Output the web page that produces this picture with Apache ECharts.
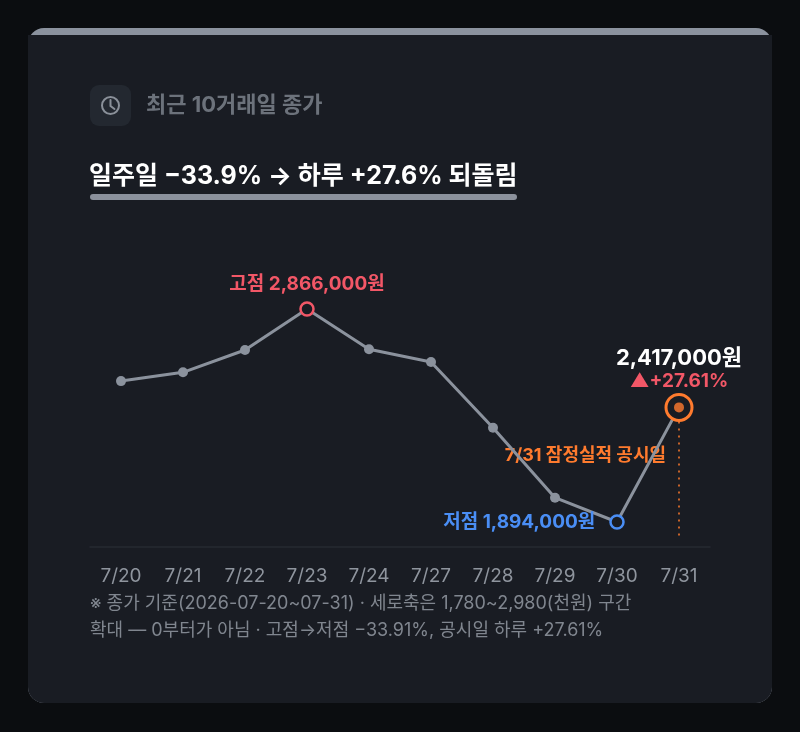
<!DOCTYPE html>
<html>
<head>
<meta charset="utf-8">
<script src="https://cdn.jsdelivr.net/npm/echarts@6/dist/echarts.min.js"></script>
<style>
  html, body { margin: 0; padding: 0; background: #0b0d10; }
  #mydiv { width: 800px; height: 732px; }
</style>
</head>
<body>
<div id="mydiv"></div>
<script>
// 날짜 (x축 눈금)
var days = ['7/20', '7/21', '7/22', '7/23', '7/24', '7/27', '7/28', '7/29', '7/30', '7/31'];
// 종가 (천원)
var closes = [2537, 2577, 2679, 2866, 2682, 2624, 2324, 2005, 1894, 2417];
// 세로축 구간 (천원)
var yRange = [1780, 2980];

var FONT = "Inter, 'Noto Sans CJK KR', sans-serif";
var CARD = '#191c23';

var hiIdx = closes.indexOf(Math.max.apply(null, closes));
var loIdx = closes.indexOf(Math.min.apply(null, closes));
var lastIdx = closes.length - 1;

function won(v) {
    return (v * 1000).toLocaleString('en-US') + '원';
}
var dayPct = ((closes[lastIdx] / closes[lastIdx - 1] - 1) * 100).toFixed(2);

// 점마다 모양 지정
var points = closes.map(function (v, i) {
    var item = { value: v };
    if (i === hiIdx) {
        item.symbolSize = 13;
        item.itemStyle = { color: CARD, borderColor: '#f25767', borderWidth: 2.5 };
        item.label = {
            show: true, position: 'top', distance: 7,
            formatter: '고점 ' + won(v),
            color: '#f25767', fontSize: 19, fontWeight: 'bold', fontFamily: FONT
        };
    } else if (i === loIdx) {
        item.symbolSize = 13;
        item.itemStyle = { color: CARD, borderColor: '#4a8ef5', borderWidth: 2.5 };
        item.label = {
            show: true, position: 'left', distance: 14,
            formatter: '저점 ' + won(v),
            color: '#4a8ef5', fontSize: 19, fontWeight: 'bold', fontFamily: FONT
        };
    } else if (i === lastIdx) {
        item.symbolSize = 26;
        item.itemStyle = { color: CARD, borderColor: '#ff7b2e', borderWidth: 3 };
        item.label = {
            show: true, position: 'top', distance: 1,
            formatter: '{v|' + won(v) + '}\n{p|▲+' + dayPct + '%}',
            rich: {
                v: { color: '#ffffff', fontSize: 22, fontWeight: 'bold', fontFamily: FONT, lineHeight: 24, align: 'center' },
                p: { color: '#f25767', fontSize: 19, fontWeight: 'bold', fontFamily: FONT, lineHeight: 22, align: 'center' }
            }
        };
    }
    return item;
});

var echart = echarts.init(document.getElementById('mydiv'));

var option = {
    backgroundColor: '#0b0d10',
    animation: false,
    grid: { left: 90, right: 90, top: 284, bottom: 185 },
    xAxis: {
        type: 'category',
        data: days,
        axisLine: { lineStyle: { color: '#262a32', width: 1.5 } },
        axisTick: { show: false },
        axisLabel: { color: '#8f959e', fontSize: 19, margin: 20, fontFamily: FONT }
    },
    yAxis: {
        type: 'value',
        min: yRange[0],
        max: yRange[1],
        show: false,
        splitLine: { show: false }
    },
    series: [{
        type: 'line',
        data: points,
        symbol: 'circle',
        symbolSize: 10,
        z: 5,
        lineStyle: { color: '#8b929d', width: 3 },
        itemStyle: { color: '#8b929d' },
        // 공시일 점선
        markLine: {
            silent: true,
            symbol: ['none', 'none'],
            label: { show: false },
            lineStyle: { color: '#ff7b2e', type: [2, 5], width: 1.5 },
            data: [[
                { coord: [days[lastIdx], closes[lastIdx]] },
                { coord: [days[lastIdx], yRange[0] + 30] }
            ]]
        },
        markPoint: {
            silent: true,
            symbol: 'circle',
            symbolSize: 0,
            data: [{
                coord: [days[lastIdx], 2195],
                label: {
                    show: true, position: 'left', distance: 13,
                    formatter: '7/31 잠정실적 공시일',
                    color: '#ff7b2e', fontSize: 18, fontWeight: 'bold', fontFamily: FONT
                }
            }]
        }
    }, {
        // 공시일 점 안쪽
        type: 'scatter',
        data: [[days[lastIdx], closes[lastIdx]]],
        symbolSize: 10,
        z: 6,
        itemStyle: { color: '#ff7b2e' }
    }],
    graphic: [
        // 카드
        { type: 'rect', z: -10, shape: { x: 28, y: 28, width: 744, height: 675, r: 16 }, style: { fill: '#8b929e' } },
        { type: 'rect', z: -9, shape: { x: 28, y: 35, width: 744, height: 668, r: [0, 0, 16, 16] }, style: { fill: CARD } },
        // 아이콘
        { type: 'rect', z: -8, shape: { x: 90, y: 85, width: 41, height: 41, r: 9 }, style: { fill: '#232830' } },
        { type: 'circle', shape: { cx: 110.5, cy: 105.5, r: 8.5 }, style: { fill: null, stroke: '#8a9099', lineWidth: 2 } },
        { type: 'polyline', shape: { points: [[110.5, 100], [110.5, 106], [114.5, 109]] }, style: { fill: null, stroke: '#8a9099', lineWidth: 2, lineCap: 'round' } },
        // 제목
        { type: 'text', x: 146, y: 105, style: { text: '최근 10거래일 종가', fill: '#6c727b', fontSize: 22, fontWeight: 'bold', fontFamily: FONT, verticalAlign: 'middle' } },
        { type: 'text', x: 89, y: 176, style: { text: '일주일 −33.9% → 하루 +27.6% 되돌림', fill: '#ffffff', fontSize: 25, fontWeight: 'bold', fontFamily: FONT, verticalAlign: 'middle' } },
        { type: 'rect', shape: { x: 90, y: 194, width: 427, height: 6, r: 3 }, style: { fill: '#8b919c' } },
        // 주석
        { type: 'text', x: 90, y: 604, style: { text: '※ 종가 기준(2026-07-20~07-31) · 세로축은 1,780~2,980(천원) 구간', fill: '#80868f', fontSize: 18, fontFamily: FONT, verticalAlign: 'middle' } },
        { type: 'text', x: 90, y: 631, style: { text: '확대 — 0부터가 아님 · 고점→저점 −33.91%, 공시일 하루 +27.61%', fill: '#80868f', fontSize: 18, fontFamily: FONT, verticalAlign: 'middle' } }
    ]
};

echart.setOption(option);
</script>
</body>
</html>
